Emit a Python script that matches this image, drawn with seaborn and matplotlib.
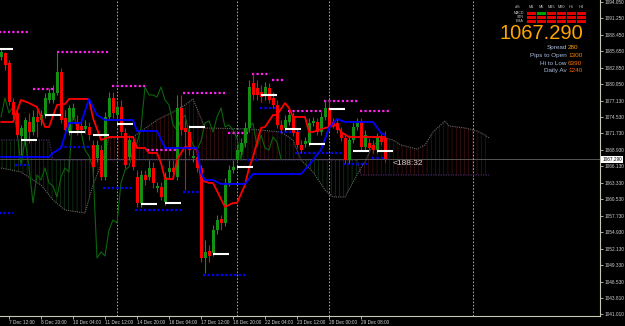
import numpy as np
import pandas as pd
import matplotlib
matplotlib.use("Agg")
import matplotlib.pyplot as plt
import seaborn as sns
from matplotlib.colors import ListedColormap

# ---------------- data (H4 candles) ----------------
opens = [1084.64, 1085.32, 1083.62, 1077.00, 1075.13, 1071.23, 1070.55, 1073.61, 1071.91, 1074.46,
         1073.95, 1074.79, 1077.34, 1077.34, 1078.53, 1082.09, 1074.29, 1071.91, 1074.46, 1073.44,
         1072.93, 1072.42, 1072.76, 1069.70, 1067.50, 1068.85, 1064.27, 1074.46, 1077.68, 1074.79,
         1076.15, 1071.74, 1067.67, 1070.21, 1064.27, 1059.86, 1064.61, 1064.27, 1065.80, 1062.41,
         1062.58, 1060.03, 1065.12, 1065.80, 1064.27, 1075.98, 1072.59, 1071.91, 1067.50, 1067.67,
         1065.80, 1050.53, 1051.71, 1051.37, 1055.28, 1057.15, 1056.47, 1063.26, 1065.46, 1067.16,
         1068.52, 1070.04, 1072.59, 1080.22, 1079.38, 1078.70, 1078.19, 1079.38, 1077.68, 1076.49,
         1073.10, 1072.59, 1073.61, 1074.46, 1071.91, 1069.70, 1069.87, 1070.04, 1073.44, 1073.61,
         1071.91, 1074.46, 1075.98, 1073.61, 1073.44, 1071.91, 1070.89, 1067.16, 1070.55, 1072.76,
         1073.61, 1069.36, 1070.04, 1069.70, 1068.85, 1070.89, 1070.89]
highs = [1085.99, 1085.49, 1084.13, 1077.68, 1075.64, 1073.10, 1074.46, 1075.13, 1075.64, 1075.64,
         1075.64, 1078.53, 1079.38, 1079.89, 1085.49, 1082.77, 1075.64, 1076.49, 1076.83, 1074.79,
         1073.95, 1073.95, 1073.61, 1070.55, 1070.55, 1069.70, 1075.30, 1078.70, 1078.70, 1077.00,
         1077.34, 1072.59, 1071.40, 1070.89, 1065.46, 1065.46, 1065.46, 1067.16, 1066.82, 1063.43,
         1063.43, 1065.12, 1067.16, 1067.16, 1078.19, 1078.19, 1073.95, 1073.10, 1068.85, 1068.85,
         1066.31, 1053.58, 1052.73, 1056.13, 1057.83, 1057.83, 1064.10, 1066.31, 1067.16, 1069.70,
         1070.89, 1073.61, 1080.73, 1081.92, 1080.73, 1079.89, 1080.39, 1080.22, 1078.70, 1077.34,
         1073.95, 1074.79, 1075.64, 1075.30, 1072.59, 1070.55, 1071.06, 1074.29, 1074.46, 1074.29,
         1075.30, 1077.34, 1077.34, 1074.29, 1074.29, 1072.76, 1071.74, 1071.40, 1073.61, 1074.29,
         1074.29, 1072.25, 1070.89, 1070.55, 1071.74, 1071.57, 1072.08]
lows = [1084.13, 1082.43, 1076.49, 1074.29, 1071.06, 1068.01, 1069.70, 1070.04, 1071.40, 1071.06,
        1073.10, 1074.29, 1076.83, 1076.83, 1078.19, 1073.44, 1071.40, 1071.40, 1073.95, 1071.40,
        1071.74, 1071.74, 1070.55, 1065.12, 1066.82, 1063.76, 1063.76, 1073.95, 1074.29, 1074.29,
        1071.40, 1065.80, 1067.16, 1065.46, 1059.18, 1059.18, 1062.92, 1063.76, 1062.41, 1061.73,
        1060.37, 1059.52, 1064.10, 1064.10, 1063.76, 1071.40, 1062.07, 1068.01, 1066.82, 1065.12,
        1049.85, 1047.98, 1049.85, 1050.87, 1054.60, 1055.28, 1055.96, 1062.75, 1064.95, 1066.65,
        1068.01, 1069.36, 1071.91, 1077.34, 1077.34, 1077.00, 1077.34, 1076.83, 1075.98, 1072.59,
        1071.74, 1072.08, 1073.10, 1071.23, 1069.19, 1068.35, 1069.36, 1069.53, 1072.93, 1071.40,
        1071.40, 1073.95, 1072.25, 1072.59, 1071.74, 1070.38, 1066.65, 1066.65, 1070.04, 1072.25,
        1068.85, 1068.85, 1068.68, 1068.35, 1068.35, 1069.70, 1066.82]
closes = [1085.49, 1083.28, 1077.00, 1074.79, 1071.40, 1072.59, 1073.95, 1071.91, 1074.46, 1073.61,
          1074.79, 1077.68, 1078.53, 1078.53, 1082.09, 1073.95, 1072.25, 1075.98, 1075.98, 1072.25,
          1072.25, 1072.93, 1071.40, 1065.97, 1069.70, 1064.27, 1074.46, 1077.68, 1075.13, 1076.15,
          1071.91, 1066.31, 1070.55, 1065.97, 1059.86, 1064.61, 1063.76, 1065.80, 1063.26, 1062.75,
          1060.88, 1064.27, 1065.80, 1065.12, 1075.98, 1072.25, 1071.91, 1068.85, 1067.84, 1065.80,
          1050.53, 1051.54, 1050.87, 1055.28, 1056.98, 1056.47, 1063.26, 1065.46, 1065.97, 1068.85,
          1070.04, 1072.59, 1079.55, 1078.19, 1078.19, 1077.85, 1079.55, 1077.34, 1076.49, 1073.10,
          1072.25, 1073.95, 1074.79, 1071.74, 1069.70, 1068.85, 1070.38, 1073.44, 1073.78, 1071.91,
          1074.46, 1075.98, 1072.76, 1073.10, 1072.25, 1070.89, 1067.16, 1070.55, 1072.76, 1073.44,
          1069.36, 1071.40, 1069.19, 1068.85, 1071.06, 1070.21, 1067.29]

# Tenkan-sen (red) and Kijun-sen (blue), read as (bar, price) points
tenkan_bar = [0, 3, 5, 7, 9, 11, 12, 14, 16, 17, 22, 23, 25, 27, 33, 34, 36, 37, 39, 40, 41, 43, 44, 45,
              46, 48, 49, 50, 52, 53, 56, 58, 59, 61, 62, 63, 65, 66, 68, 69, 71, 72, 73, 76, 77, 78,
              81, 84, 85, 87, 96]
tenkan_val = [1073.61, 1073.61, 1077.34, 1076.83, 1076.15, 1072.76, 1072.76, 1076.49, 1076.66, 1077.51,
              1077.51, 1074.29, 1070.55, 1071.06, 1071.06, 1069.19, 1069.19, 1068.35, 1068.35, 1066.65,
              1063.93, 1063.93, 1067.16, 1068.35, 1069.36, 1069.19, 1068.85, 1063.76, 1063.26, 1063.26,
              1059.18, 1059.86, 1059.86, 1062.92, 1065.80, 1067.67, 1072.59, 1072.76, 1074.79, 1074.79,
              1076.83, 1075.98, 1074.46, 1074.46, 1071.91, 1071.91, 1072.59, 1073.10, 1071.91, 1071.06,
              1071.06]
kijun_bar = [0, 12, 13, 15, 16, 17, 20, 22, 24, 26, 33, 34, 39, 41, 49, 50, 51, 53, 55, 61, 63, 75, 77,
             80, 82, 84, 86, 93, 95, 96]
kijun_val = [1067.67, 1067.67, 1068.35, 1069.19, 1071.40, 1073.44, 1073.44, 1077.51, 1074.79, 1073.95,
             1073.95, 1072.08, 1072.08, 1069.19, 1069.19, 1064.95, 1063.76, 1063.76, 1063.09, 1063.09,
             1064.78, 1064.78, 1066.31, 1068.85, 1072.59, 1074.12, 1073.61, 1073.61, 1071.74, 1071.40]

# Ichimoku cloud (Senkou span A / B), shifted 26 bars ahead
cloud_bar = [0, 5, 8, 10, 12, 13, 16, 21, 23, 25, 27, 33, 39, 43, 46, 48, 51, 62, 70, 73, 75, 78, 81,
             83, 86, 89, 90, 91, 93, 96, 98, 100, 104, 106, 108, 111, 112, 116, 119, 121, 122]
span_a = [1065.80, 1065.12, 1063.76, 1062.92, 1061.22, 1060.37, 1058.67, 1058.16, 1062.92, 1066.31,
          1070.89, 1071.06, 1073.95, 1075.30, 1076.49, 1077.51, 1072.59, 1072.42, 1071.91, 1070.55,
          1067.16, 1065.12, 1062.07, 1060.88, 1060.88, 1064.61, 1065.80, 1066.82, 1069.70, 1070.89,
          1070.55, 1069.70, 1069.02, 1069.70, 1071.91, 1073.78, 1072.93, 1072.59, 1072.08, 1071.40,
          1070.89]
span_b = [1070.55, 1070.55, 1070.55, 1070.55, 1070.55, 1067.16, 1067.16, 1067.16, 1067.16, 1067.16,
          1067.16, 1067.16, 1067.16, 1067.16, 1067.16, 1067.16, 1067.16, 1067.16, 1067.16, 1067.16,
          1067.16, 1067.16, 1067.16, 1067.16, 1067.16, 1067.16, 1064.61, 1064.61, 1064.61, 1064.61,
          1064.61, 1064.61, 1064.61, 1064.61, 1064.61, 1064.61, 1064.61, 1064.61, 1064.61, 1064.61,
          1064.61]
chikou_shift = 26

# daily levels: white (open), magenta (high), blue (low)
white_start = [-1, 5, 11, 17, 23, 29, 35, 41, 47, 53, 59, 65, 71, 77, 82, 88, 94]
white_level = [1085.99, 1070.55, 1074.79, 1071.91, 1071.40, 1073.27, 1059.69, 1059.86, 1072.76,
               1051.21, 1065.97, 1078.19, 1072.42, 1069.87, 1075.81, 1068.68, 1068.68]
white_len = 4
mag_start = [-1, 8, 14, 27.75, 36.5, 45.5, 56.75, 62.75, 67.75, 71.75, 80.75, 89.75]
mag_end = [7.25, 13, 27.25, 36, 44, 56, 62.25, 67.25, 71, 80.25, 89.25, 97.25]
mag_level = [1088.88, 1079.21, 1085.49, 1079.72, 1068.85, 1078.53, 1071.74, 1081.75, 1080.73,
             1075.47, 1077.17, 1075.47]
low_start = [-1, 3.5, 14.75, 25.5, 33.5, 45.5, 50.5, 61.5, 64.75, 69.75, 73.5, 85.5, 92.75]
low_end = [3, 7.25, 24.75, 33, 45.25, 50.25, 61.5, 64.25, 69.25, 74.75, 85.25, 91.5, 97.25]
low_level = [1058.16, 1066.31, 1069.36, 1062.41, 1058.67, 1061.73, 1047.64, 1067.16, 1075.98,
             1071.91, 1068.35, 1066.48, 1067.50]

week_start = [29, 59, 82, 118]
tick_bar = [2, 10, 18, 26, 34, 42, 50, 58, 66, 74, 82, 90]
tick_text = ["7 Dec 12:00", "8 Dec 20:00", "10 Dec 04:00", "11 Dec 12:00", "14 Dec 20:00",
             "16 Dec 04:00", "17 Dec 12:00", "18 Dec 20:00", "22 Dec 04:00", "23 Dec 12:00",
             "28 Dec 00:00", "29 Dec 08:00"]
price_ticks = [1041.01, 1043.81, 1046.53, 1049.33, 1052.13, 1054.93, 1057.73, 1060.53, 1063.33,
               1066.13, 1068.93, 1071.73, 1074.53, 1077.13, 1080.05, 1082.85, 1085.65, 1088.45,
               1091.25, 1094.05]
last_price = 1067.29
timer_text = "<188:32"

# info panel
tf_names = ["M1", "M5", "M15", "M30", "H1", "H4"]
ind_names = ["MACD", "STR", "EMA"]
ind_state = [[0, 1, 0, 0, 0, 0],
             [0, 0, 0, 0, 0, 0],
             [0, 0, 0, 0, 0, 0]]
info_labels = ["Spread", "Pips to Open", "Hi to Low", "Daily Av"]
info_values = ["280", "1300", "6390", "1240"]
info_colors = ["#ff9a00", "#ff8400", "#ff6c00", "#ff5c00"]

# ---------------- style ----------------
sns.set_theme(style="dark", rc={"axes.facecolor": "black", "figure.facecolor": "black"})
plt.rcParams['font.family'] = ['Liberation Sans', 'DejaVu Sans']
plt.rcParams['hatch.linewidth'] = 0.45
AXC = '#c8c8b4'

W, H = 625, 326
fig = plt.figure(figsize=(W / 100, H / 100), dpi=100)
fig.patch.set_facecolor('black')
ax = fig.add_axes([0, 10 / H, 600 / W, 316 / H])
ax.set_facecolor('black')

bars = np.arange(len(closes))
o = np.array(opens); c = np.array(closes); hi = np.array(highs); lo = np.array(lows)

# cloud hatch
xb = np.array(cloud_bar, float); a = np.array(span_a); b = np.array(span_b)
ax.fill_between(xb, a, b, where=a >= b, interpolate=True, facecolor='none',
                edgecolor='#4e1212', hatch='||||', linewidth=0, zorder=1)
ax.fill_between(xb, a, b, where=a <= b, interpolate=True, facecolor='none',
                edgecolor='#17431a', hatch='||||', linewidth=0, zorder=1)
sns.lineplot(x=cloud_bar, y=span_a, ax=ax, color='#686868', lw=0.8, ls=(0, (1, 1)),
             legend=False, errorbar=None, zorder=2)
sns.lineplot(x=cloud_bar, y=span_b, ax=ax, color='#44285f', lw=0.9, ls=(0, (1, 1)),
             legend=False, errorbar=None, zorder=2)

# current price line
ax.axhline(last_price, color='#555555', lw=0.7, zorder=1.5)

# week separators
for wb in week_start:
    ax.axvline(wb, color='#bdbdbd', lw=0.6, ls=(0, (2, 2)), zorder=1.6)

# chikou span (closes shifted back)
chikou = pd.DataFrame({"bar": bars[chikou_shift:] - chikou_shift, "price": c[chikou_shift:]})
sns.lineplot(data=chikou, x="bar", y="price", ax=ax, color='#0b650b', lw=0.8,
             legend=False, errorbar=None, zorder=2.5)

# daily high / low dotted levels
ax.hlines(mag_level, mag_start, mag_end, colors='#ff22ee', lw=1.6, linestyles=(0, (1, 1)), zorder=3)
ax.hlines(low_level, low_start, low_end, colors='#0000ff', lw=1.6, linestyles=(0, (1, 1)), zorder=3)

# candles
up = c >= o
cols = np.where(up, '#129112', '#ff0000')
ax.vlines(bars, lo, hi, colors=cols, lw=0.8, zorder=4)
ax.bar(bars, np.where(np.abs(c - o) < 0.15, 0.15, c - o), bottom=o, width=0.75, color=cols,
       linewidth=0, zorder=4)

# tenkan / kijun
sns.lineplot(x=tenkan_bar, y=tenkan_val, ax=ax, color='#ff0000', lw=1.3, legend=False,
             errorbar=None, zorder=5)
sns.lineplot(x=kijun_bar, y=kijun_val, ax=ax, color='#0000ff', lw=1.3, legend=False,
             errorbar=None, zorder=5)

# daily open levels (white)
ax.hlines(white_level, white_start, np.array(white_start) + white_len, colors='white', lw=1.5, zorder=6)

# timer
ax.text(bars[-1] + 1.8, last_price - 0.75, timer_text, color='#d8d8d8', fontsize=6,
        va='center', ha='left', zorder=7)

# axes
ax.set_xlim(-0.25, 149.75)
ax.set_ylim(1040.68, 1094.31)
for s in ['left', 'top']:
    ax.spines[s].set_visible(False)
for s in ['right', 'bottom']:
    ax.spines[s].set_visible(True)
    ax.spines[s].set_color(AXC)
    ax.spines[s].set_linewidth(0.8)
ax.grid(False)
ax.set_xlabel(""); ax.set_ylabel("")
ax.yaxis.tick_right()
ax.set_yticks(price_ticks)
ax.set_yticklabels([f"{v:.3f}" for v in price_ticks])
ax.set_xticks(tick_bar)
ax.set_xticklabels(tick_text)
ax.tick_params(axis='y', which='both', right=True, left=False, length=2, width=0.6, color=AXC,
               labelsize=3.4, labelcolor='#d0d0d0', pad=1)
ax.tick_params(axis='x', which='both', bottom=True, length=2, width=0.6, color=AXC,
               labelsize=3.4, labelcolor='#d0d0d0', pad=1)
for lbl in ax.get_xticklabels():
    lbl.set_ha('left')

# price box on the axis
ax.text(1.004, last_price, f"{last_price:.3f}", transform=ax.get_yaxis_transform(),
        fontsize=3.4, color='black', va='center', ha='left', clip_on=False, zorder=8,
        bbox=dict(boxstyle='square,pad=0.2', fc='white', ec='none'))

# ---------------- info panel ----------------
def fx(px):
    return px / W

def fy(py):
    return 1 - py / H

axp = fig.add_axes([fx(526), fy(23), fx(60), 12 / H])
sns.heatmap(np.array(ind_state), ax=axp, cmap=ListedColormap(['#e00000', '#00a000']), vmin=0, vmax=1,
            cbar=False, linewidths=0.45, linecolor='black', xticklabels=False, yticklabels=False)
axp.set_facecolor('black')

fig.text(fx(518), fy(8.5), "cIS", color='#c8c8c8', fontsize=2.8, ha='center', va='baseline')
for i, name in enumerate(tf_names):
    fig.text(fx(531 + 10 * i), fy(8.5), name, color='#c8c8c8', fontsize=2.8, ha='center', va='baseline')
for j, name in enumerate(ind_names):
    fig.text(fx(524), fy(14 + 4 * j), name, color='#c8c8c8', fontsize=2.6, ha='right', va='baseline')

fig.text(fx(583), fy(39), f"{last_price:.3f}", color='#ffa500', fontsize=14.5, ha='right',
         va='baseline')
for k, (lab, val, col) in enumerate(zip(info_labels, info_values, info_colors)):
    yb = [49, 57, 65, 72.5][k]
    fig.text(fx(567), fy(yb), lab, color='#aabbd8', fontsize=4.6, ha='right', va='baseline')
    fig.text(fx(568), fy(yb), val, color=col, fontsize=4.6, ha='left', va='baseline')

fig.savefig("out.png", dpi=100, facecolor='black')
